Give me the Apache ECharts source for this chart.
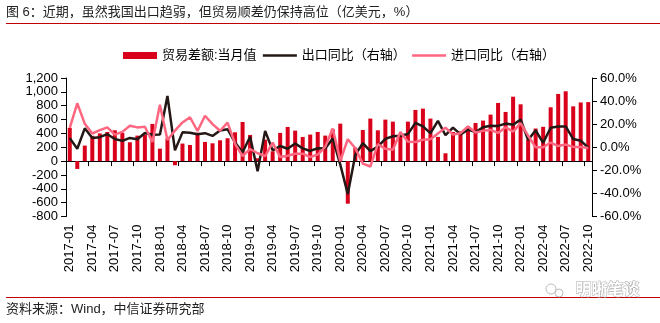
<!DOCTYPE html>
<html>
<head>
<meta charset="utf-8">
<script src="https://cdn.jsdelivr.net/npm/echarts@6/dist/echarts.min.js"></script>
<style>
html,body{margin:0;padding:0;background:#fff;}
#chart{width:660px;height:323px;}
</style>
</head>
<body>
<div id="chart"></div>
<script>
const months = [
  '2017-01','2017-02','2017-03','2017-04','2017-05','2017-06','2017-07','2017-08','2017-09','2017-10','2017-11','2017-12',
  '2018-01','2018-02','2018-03','2018-04','2018-05','2018-06','2018-07','2018-08','2018-09','2018-10','2018-11','2018-12',
  '2019-01','2019-02','2019-03','2019-04','2019-05','2019-06','2019-07','2019-08','2019-09','2019-10','2019-11','2019-12',
  '2020-01','2020-02','2020-03','2020-04','2020-05','2020-06','2020-07','2020-08','2020-09','2020-10','2020-11','2020-12',
  '2021-01','2021-02','2021-03','2021-04','2021-05','2021-06','2021-07','2021-08','2021-09','2021-10','2021-11','2021-12',
  '2022-01','2022-02','2022-03','2022-04','2022-05','2022-06','2022-07','2022-08','2022-09','2022-10'
];
const balance = [
  480, -113, 224, 365, 400, 420, 445, 407, 272, 368, 383, 537,
  180, 330, -60, 253, 233, 410, 277, 257, 300, 330, 416, 565,
  378, 41, 310, 142, 407, 493, 440, 349, 383, 421, 368, 460,
  541, -615, 195, 450, 614, 445, 599, 570, 365, 570, 739, 758,
  614, 349, 113, 420, 430, 500, 551, 585, 671, 840, 710, 930,
  820, 310, 470, 495, 777, 970, 1008, 791, 847, 852
];
const exportYoY = [
  7.9, -1.3, 16.4, 8.0, 8.7, 11.3, 7.2, 5.5, 8.1, 6.9, 12.3, 10.9,
  11.1, 44.5, -2.7, 12.9, 12.6, 11.3, 12.2, 9.8, 14.5, 15.6, 4.0, -4.4,
  9.1, -20.8, 14.2, -2.7, 1.1, -1.3, 3.3, -1.0, -3.2, -0.9, -1.1, 7.6,
  -15.0, -40.6, -6.6, 3.5, -3.3, 0.5, 7.2, 9.5, 9.9, 11.4, 21.1, 18.1,
  12.2, 22.9, 10.4, 17.0, 11.2, 15.3, 13.1, 17.3, 18.6, 18.5, 20.5, 19.5,
  24.1, 6.2, 14.7, 3.9, 16.9, 17.9, 18.0, 7.1, 5.7, -0.3
];
const importYoY = [
  16.7, 38.1, 20.3, 11.9, 14.8, 17.2, 11.0, 13.3, 18.7, 17.2, 17.7, 4.5,
  36.9, 6.3, 14.4, 21.5, 26.0, 14.1, 27.3, 20.0, 14.3, 21.4, 3.0, -7.6,
  -1.5, -5.2, -7.6, 4.0, -8.5, -7.3, -5.6, -5.6, -8.5, -6.4, 0.3, 16.3,
  -12.0, 7.0, -0.9, -14.2, -16.7, 2.7, -1.4, -2.1, 13.2, 4.7, 4.5, 6.5,
  7.0, 12.0, 17.0, 11.0, 12.2, 18.0, 12.8, 14.2, 15.0, 12.4, 17.3, 13.5,
  20.9, 10.0, -0.1, 0.0, 4.1, 1.0, 2.3, 0.3, 0.3, -0.7
];
const leftTicks = {min: -800, max: 1200, interval: 200};
const rightTicks = {min: -60, max: 60, interval: 20};
const names = ['贸易差额:当月值', '出口同比（右轴）', '进口同比（右轴）'];
const titleText = '图 6：近期，虽然我国出口趋弱，但贸易顺差仍保持高位（亿美元，%）';
const sourceText = '资料来源：Wind，中信证券研究部';
const watermarkText = '明晰笔谈';

const FONT = '"Liberation Sans", Arial, "Noto Sans CJK SC", sans-serif';
const CJK = '"Liberation Sans", "Noto Sans CJK SC", sans-serif';
const RED = '#d9001b', BLACK = '#231815', PINK = '#ff6680';

const chart = echarts.init(document.getElementById('chart'), null, {renderer: 'canvas'});
chart.setOption({
  animation: false,
  textStyle: {fontFamily: FONT},
  legend: {
    left: 118, top: 44, itemWidth: 34, itemHeight: 7, itemGap: 5,
    textStyle: {fontSize: 13, color: '#000', fontFamily: CJK},
    data: [
      {name: names[0], icon: 'rect'},
      {name: names[1], itemStyle: {opacity: 0}, lineStyle: {width: 2.5, color: BLACK}},
      {name: names[2], itemStyle: {opacity: 0}, lineStyle: {width: 2.5, color: PINK}}
    ]
  },
  grid: {left: 66, right: 68, top: 78, bottom: 106.5},
  xAxis: [
    {
      type: 'category', data: months, boundaryGap: true, position: 'bottom',
      axisLine: {show: false, onZero: false}, axisTick: {show: false},
      axisLabel: {interval: 2, rotate: 90, margin: 8, fontSize: 13, color: '#000'}
    },
    {
      type: 'category', data: months, boundaryGap: true, position: 'bottom',
      axisLine: {show: true, onZero: true, onZeroAxisIndex: 0, lineStyle: {color: '#000', width: 1}},
      axisTick: {show: true, interval: 2, length: 5, lineStyle: {color: '#000'}},
      axisLabel: {show: false}, splitLine: {show: false}
    }
  ],
  yAxis: [
    {
      type: 'value', min: leftTicks.min, max: leftTicks.max, interval: leftTicks.interval,
      axisLine: {show: true, lineStyle: {color: '#000'}},
      axisTick: {show: true, length: 5, lineStyle: {color: '#000'}},
      axisLabel: {fontSize: 13, color: '#000', margin: 8},
      splitLine: {show: false}
    },
    {
      type: 'value', position: 'right', min: rightTicks.min, max: rightTicks.max, interval: rightTicks.interval,
      axisLine: {show: true, lineStyle: {color: '#000'}},
      axisTick: {show: true, length: 5, lineStyle: {color: '#000'}},
      axisLabel: {fontSize: 13, color: '#000', margin: 8, formatter: v => v.toFixed(1) + '%'},
      splitLine: {show: false}
    }
  ],
  series: [
    {name: names[0], type: 'bar', xAxisIndex: 0, yAxisIndex: 0, data: balance, barWidth: 4, itemStyle: {color: RED}},
    {name: names[1], type: 'line', xAxisIndex: 0, yAxisIndex: 1, data: exportYoY, symbol: 'none',
      lineStyle: {color: BLACK, width: 2.5}, itemStyle: {color: BLACK}},
    {name: names[2], type: 'line', xAxisIndex: 0, yAxisIndex: 1, data: importYoY, symbol: 'none',
      lineStyle: {color: PINK, width: 2.5}, itemStyle: {color: PINK}}
  ],
  graphic: [
    {type: 'text', left: 6, top: 6, style: {text: titleText, font: '13px ' + CJK, fill: '#222'}},
    {type: 'line', shape: {x1: 6, y1: 23.5, x2: 660, y2: 23.5}, style: {stroke: '#c00000', lineWidth: 1}},
    {type: 'line', shape: {x1: 6, y1: 297.5, x2: 660, y2: 297.5}, style: {stroke: '#c00000', lineWidth: 1}},
    {type: 'text', left: 6, top: 303, style: {text: sourceText, font: '13px ' + CJK, fill: '#222'}},
    {type: 'circle', shape: {cx: 551, cy: 289, r: 5}, style: {fill: '#fff', stroke: '#bbb', lineWidth: 1}},
    {type: 'circle', shape: {cx: 559, cy: 293, r: 4}, style: {fill: '#fff', stroke: '#bbb', lineWidth: 1}},
    {type: 'text', left: 575, top: 282, style: {text: watermarkText, font: 'bold 16px ' + CJK, fill: '#fff', stroke: '#aaa', lineWidth: 1}}
  ]
});
</script>
</body>
</html>
